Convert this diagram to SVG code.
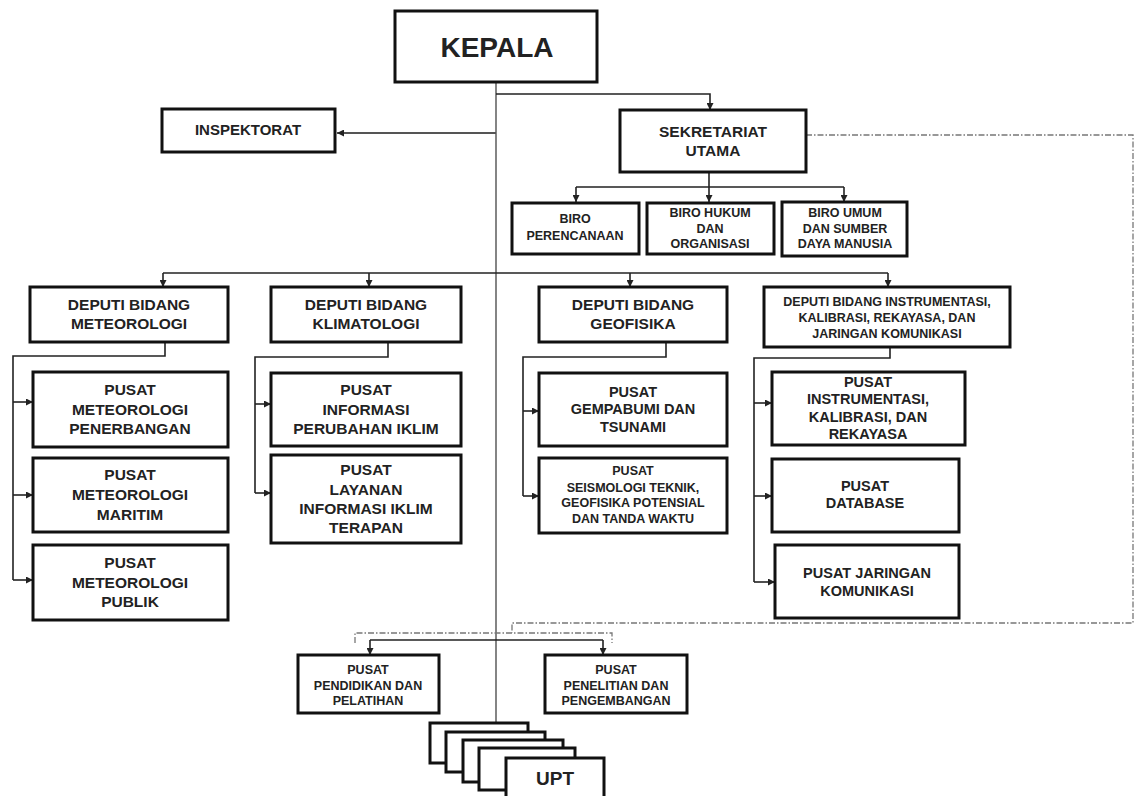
<svg xmlns="http://www.w3.org/2000/svg" width="1137" height="796" viewBox="0 0 1137 796">
<style>
.box{fill:#fff;stroke:#111;stroke-width:3}
.ln{fill:none;stroke:#222;stroke-width:1.6}
.thin{fill:none;stroke:#333;stroke-width:1.2}
.dash{fill:none;stroke:#777;stroke-width:1.3;stroke-dasharray:6 2 1.5 2}
.t{font-family:"Liberation Sans",Arial,sans-serif;font-weight:bold;fill:#222;text-anchor:middle}
.f15{font-size:15.5px}
.f14{font-size:14.5px}
.f12{font-size:12.5px}
</style>
<defs>
<marker id="ah" viewBox="0 0 10 10" refX="10" refY="5" markerWidth="7" markerHeight="7" orient="auto" markerUnits="userSpaceOnUse"><path d="M0,0 L10,5 L0,10 z" fill="#222"/></marker>
</defs>
<rect width="1137" height="796" fill="#fff"/>
<g id="connectors">
<path class="thin" d="M496,82 V723"/>
<path class="ln" d="M496,94 H710 V110" marker-end="url(#ah)"/>
<path d="M496,133 H337" fill="none" stroke="#555" stroke-width="2" marker-end="url(#ah)"/>
<path class="ln" d="M709,172 V187 M576,187 H844"/>
<path class="ln" d="M576,187 V202" marker-end="url(#ah)"/>
<path class="ln" d="M709,187 V202" marker-end="url(#ah)"/>
<path class="ln" d="M844,187 V202" marker-end="url(#ah)"/>
<path class="ln" d="M163,273 H888"/>
<path class="ln" d="M163,273 V287" marker-end="url(#ah)"/>
<path class="ln" d="M369,273 V287" marker-end="url(#ah)"/>
<path class="ln" d="M630,273 V287" marker-end="url(#ah)"/>
<path class="ln" d="M888,273 V287" marker-end="url(#ah)"/>
<path class="ln" d="M165,342 V356 H13 V580"/>
<path class="ln" d="M13,402 H33" marker-end="url(#ah)"/>
<path class="ln" d="M13,495 H33" marker-end="url(#ah)"/>
<path class="ln" d="M13,580 H33" marker-end="url(#ah)"/>
<path class="ln" d="M388,342 V357 H255 V493"/>
<path class="ln" d="M255,404 H271" marker-end="url(#ah)"/>
<path class="ln" d="M255,493 H271" marker-end="url(#ah)"/>
<path class="ln" d="M666,342 V357 H523 V496"/>
<path class="ln" d="M523,411 H539" marker-end="url(#ah)"/>
<path class="ln" d="M523,496 H539" marker-end="url(#ah)"/>
<path class="ln" d="M890,347 V358 H754 V582"/>
<path class="ln" d="M754,403 H772" marker-end="url(#ah)"/>
<path class="ln" d="M754,496 H772" marker-end="url(#ah)"/>
<path class="ln" d="M754,582 H775" marker-end="url(#ah)"/>
<path class="ln" d="M370,640 H603"/>
<path class="ln" d="M370,640 V655" marker-end="url(#ah)"/>
<path class="ln" d="M603,640 V655" marker-end="url(#ah)"/>
<path class="dash" d="M806,135 H1133 V623 H512 V633"/>
<path class="dash" d="M355,643 V633 H612 V643"/>
</g>
<g id="kepala"><rect class="box" x="395" y="11" width="202" height="71" stroke-width="4"/><text class="t" x="497" y="57" font-size="28">KEPALA</text></g>
<g id="inspektorat"><rect class="box" x="162" y="109" width="173" height="43"/><text class="t" x="248" y="135" font-size="15">INSPEKTORAT</text></g>
<g id="sekretariat"><rect class="box" x="620" y="110" width="186" height="62"/><text class="t f15" x="713" y="136.5">SEKRETARIAT</text><text class="t f15" x="713" y="155.5">UTAMA</text></g>
<g id="biro-perencanaan"><rect class="box" x="512" y="203" width="127" height="51"/><text class="t f12" x="575" y="222.5">BIRO</text><text class="t f12" x="575" y="239.5">PERENCANAAN</text></g>
<g id="biro-hukum"><rect class="box" x="647" y="203" width="127" height="51"/><text class="t f12" x="710" y="216.5">BIRO HUKUM</text><text class="t f12" x="710" y="232.5">DAN</text><text class="t f12" x="710" y="247.5">ORGANISASI</text></g>
<g id="biro-umum"><rect class="box" x="782" y="202" width="125" height="54"/><text class="t f12" x="845" y="216.5">BIRO UMUM</text><text class="t f12" x="845" y="232.5">DAN SUMBER</text><text class="t f12" x="845" y="247.5">DAYA MANUSIA</text></g>
<g id="deputi-meteorologi"><rect class="box" x="30" y="287" width="198" height="55"/><text class="t f15" x="129" y="309.5">DEPUTI BIDANG</text><text class="t f15" x="129" y="328.5">METEOROLOGI</text></g>
<g id="deputi-klimatologi"><rect class="box" x="271" y="287" width="190" height="55"/><text class="t f15" x="366" y="309.5">DEPUTI BIDANG</text><text class="t f15" x="366" y="328.5">KLIMATOLOGI</text></g>
<g id="deputi-geofisika"><rect class="box" x="539" y="287" width="188" height="55"/><text class="t f15" x="633" y="309.5">DEPUTI BIDANG</text><text class="t f15" x="633" y="328.5">GEOFISIKA</text></g>
<g id="deputi-instrumentasi"><rect class="box" x="764" y="287" width="246" height="60"/><text class="t f12" x="887" y="305.5">DEPUTI BIDANG INSTRUMENTASI,</text><text class="t f12" x="887" y="321.5">KALIBRASI, REKAYASA, DAN</text><text class="t f12" x="887" y="337.5">JARINGAN KOMUNIKASI</text></g>
<g id="pusat-penerbangan"><rect class="box" x="33" y="372" width="195" height="75"/><text class="t f15" x="130" y="394.5">PUSAT</text><text class="t f15" x="130" y="414.5">METEOROLOGI</text><text class="t f15" x="130" y="433.5">PENERBANGAN</text></g>
<g id="pusat-maritim"><rect class="box" x="33" y="458" width="195" height="74"/><text class="t f15" x="130" y="479.5">PUSAT</text><text class="t f15" x="130" y="499.5">METEOROLOGI</text><text class="t f15" x="130" y="519.5">MARITIM</text></g>
<g id="pusat-publik"><rect class="box" x="33" y="545" width="195" height="75"/><text class="t f15" x="130" y="567.5">PUSAT</text><text class="t f15" x="130" y="587.5">METEOROLOGI</text><text class="t f15" x="130" y="606.5">PUBLIK</text></g>
<g id="pusat-perubahan-iklim"><rect class="box" x="271" y="373" width="190" height="73"/><text class="t f15" x="366" y="394.5">PUSAT</text><text class="t f15" x="366" y="414.5">INFORMASI</text><text class="t f15" x="366" y="433.5">PERUBAHAN IKLIM</text></g>
<g id="pusat-layanan-iklim"><rect class="box" x="271" y="455" width="190" height="88"/><text class="t f15" x="366" y="474.5">PUSAT</text><text class="t f15" x="366" y="494.5">LAYANAN</text><text class="t f15" x="366" y="513.5">INFORMASI IKLIM</text><text class="t f15" x="366" y="532.5">TERAPAN</text></g>
<g id="pusat-gempabumi"><rect class="box" x="539" y="373" width="188" height="73"/><text class="t f14" x="633" y="397">PUSAT</text><text class="t f14" x="633" y="414">GEMPABUMI DAN</text><text class="t f14" x="633" y="432">TSUNAMI</text></g>
<g id="pusat-seismologi"><rect class="box" x="539" y="458" width="188" height="75"/><text class="t f12" x="633" y="474.5">PUSAT</text><text class="t f12" x="633" y="491.5">SEISMOLOGI TEKNIK,</text><text class="t f12" x="633" y="506.5">GEOFISIKA POTENSIAL</text><text class="t f12" x="633" y="522.5">DAN TANDA WAKTU</text></g>
<g id="pusat-instrumentasi"><rect class="box" x="772" y="372" width="193" height="73"/><text class="t f14" x="868" y="387">PUSAT</text><text class="t f14" x="868" y="404">INSTRUMENTASI,</text><text class="t f14" x="868" y="422">KALIBRASI, DAN</text><text class="t f14" x="868" y="439">REKAYASA</text></g>
<g id="pusat-database"><rect class="box" x="772" y="459" width="187" height="73"/><text class="t f14" x="865" y="491">PUSAT</text><text class="t f14" x="865" y="508">DATABASE</text></g>
<g id="pusat-jaringan"><rect class="box" x="775" y="545" width="184" height="73"/><text class="t f14" x="867" y="578">PUSAT JARINGAN</text><text class="t f14" x="867" y="596">KOMUNIKASI</text></g>
<g id="pusat-pendidikan"><rect class="box" x="298" y="655" width="141" height="58" stroke-width="2.5"/><text class="t f12" x="368" y="673.5">PUSAT</text><text class="t f12" x="368" y="689.5">PENDIDIKAN DAN</text><text class="t f12" x="368" y="704.5">PELATIHAN</text></g>
<g id="pusat-penelitian"><rect class="box" x="545" y="655" width="142" height="58" stroke-width="2.5"/><text class="t f12" x="616" y="673.5">PUSAT</text><text class="t f12" x="616" y="689.5">PENELITIAN DAN</text><text class="t f12" x="616" y="704.5">PENGEMBANGAN</text></g>
<g id="upt">
<rect class="box" x="430" y="723" width="98" height="40" stroke-width="2.5"/>
<rect class="box" x="446" y="732" width="99" height="40" stroke-width="2.5"/>
<rect class="box" x="463" y="740" width="100" height="42" stroke-width="2.5"/>
<rect class="box" x="479" y="748" width="96" height="42" stroke-width="2.5"/>
<rect class="box" x="506" y="758" width="98" height="50" stroke-width="2.5"/>
<text class="t" x="555" y="785" font-size="19">UPT</text>
</g>
</svg>
